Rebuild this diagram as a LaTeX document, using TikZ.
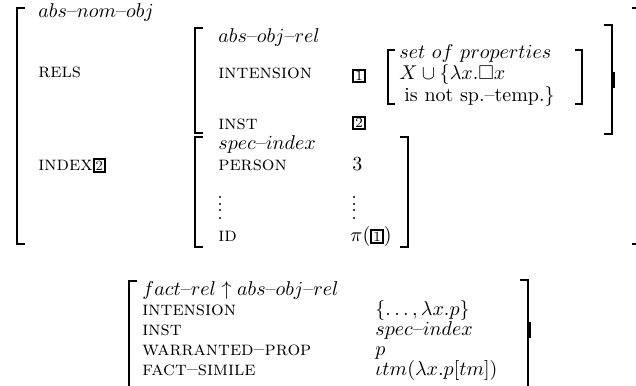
\documentclass[tikz,border=0pt]{standalone}
\usepackage{amsmath,amssymb}
\usepackage{tikz}
\newcommand{\boxtag}[1]{{\setlength{\fboxrule}{1pt}\setlength{\fboxsep}{0.4pt}\fbox{\scriptsize #1}}}

\begin{document}
\begin{tikzpicture}[line cap=butt,line join=miter,x=0.5pt,y=-0.5pt,
    brk/.style={line width=1.3pt},
    typ/.style={anchor=base west,inner sep=0pt},
    fld/.style={anchor=base west,inner sep=0pt,font=\scshape},
    tg/.style={inner sep=0pt}]
        \useasboundingbox (0,0) rectangle (636,385);
        % outer matrix
        \draw [brk] (25,8) -- (17,8) -- (17,244) -- (25,244);
        \draw [brk] (632,8) -- (636,8);
        \draw [brk] (632,244) -- (636,244);
        \node [typ] (anom) at (38,18) {$abs$--$nom$--$obj$};
        \node [fld] (rels) at (38,78) {rels};
        \node [fld] (index) at (38,170) {index\boxtag{2}};
        % value of rels
        \draw [brk] (203,28) -- (195,28) -- (195,133) -- (203,133);
        \draw [brk] (604,25) -- (612,25) -- (612,134) -- (604,134);
        \draw [brk] (613.5,72) -- (613.5,88);
        \node [typ] (aorel) at (218,43) {$abs$--$obj$--$rel$};
        \node [fld] (inten) at (218,79) {intension};
        \node [fld] (inst) at (218,129) {inst};
        \node [tg] (tone) at (359,76) {\boxtag{1}};
        \node [tg] (ttwo) at (359,123) {\boxtag{2}};
        \draw [brk] (395,50) -- (388,50) -- (388,104) -- (395,104);
        \draw [brk] (575,50) -- (582,50) -- (582,104) -- (575,104);
        \node [typ] (props) at (399,59) {$set\ of\ properties$};
        \node [typ] (xset) at (399,80) {$X\cup\{\lambda x.\square x$};
        \node [typ] (nsp) at (404,102) {is not sp.--temp.$\}$};
        % value of index
        \draw [brk] (203,137) -- (195,137) -- (195,247) -- (203,247);
        \draw [brk] (400,137) -- (408,137) -- (408,247) -- (400,247);
        \node [typ] (spec) at (218,149) {$spec$--$index$};
        \node [fld] (pers) at (218,170) {person};
        \node [typ] (three) at (352,170) {3};
        \foreach \y in {197,204,210,218} {
            \fill (220,\y) circle (1.1);
            \fill (354,\y) circle (1.1);
        }
        \node [fld] (id) at (218,241) {id};
        \node [typ] (pival) at (350,241) {$\pi$(\boxtag{1})};
        % fact-rel
        \draw [brk] (137,281) -- (129,281) -- (129,386);
        \draw [brk] (520,280) -- (528,280) -- (528,386);
        \draw [brk] (529.5,322) -- (529.5,338);
        \node [typ] (frel) at (142,295) {$fact$--$rel\uparrow abs$--$obj$--$rel$};
        \node [fld] (finten) at (142,315) {intension};
        \node [fld] (finst) at (142,335) {inst};
        \node [fld] (fwarr) at (142,355) {warranted--prop};
        \node [fld] (fsim) at (142,375) {fact--simile};
        \node [typ] (vinten) at (375,315) {$\{\ldots,\lambda x.p\}$};
        \node [typ] (vinst) at (375,335) {$spec$--$index$};
        \node [typ] (vwarr) at (375,355) {$p$};
        \node [typ] (vsim) at (375,375) {$\iota tm(\lambda x.p[tm])$};
    \end{tikzpicture}
\end{document}
